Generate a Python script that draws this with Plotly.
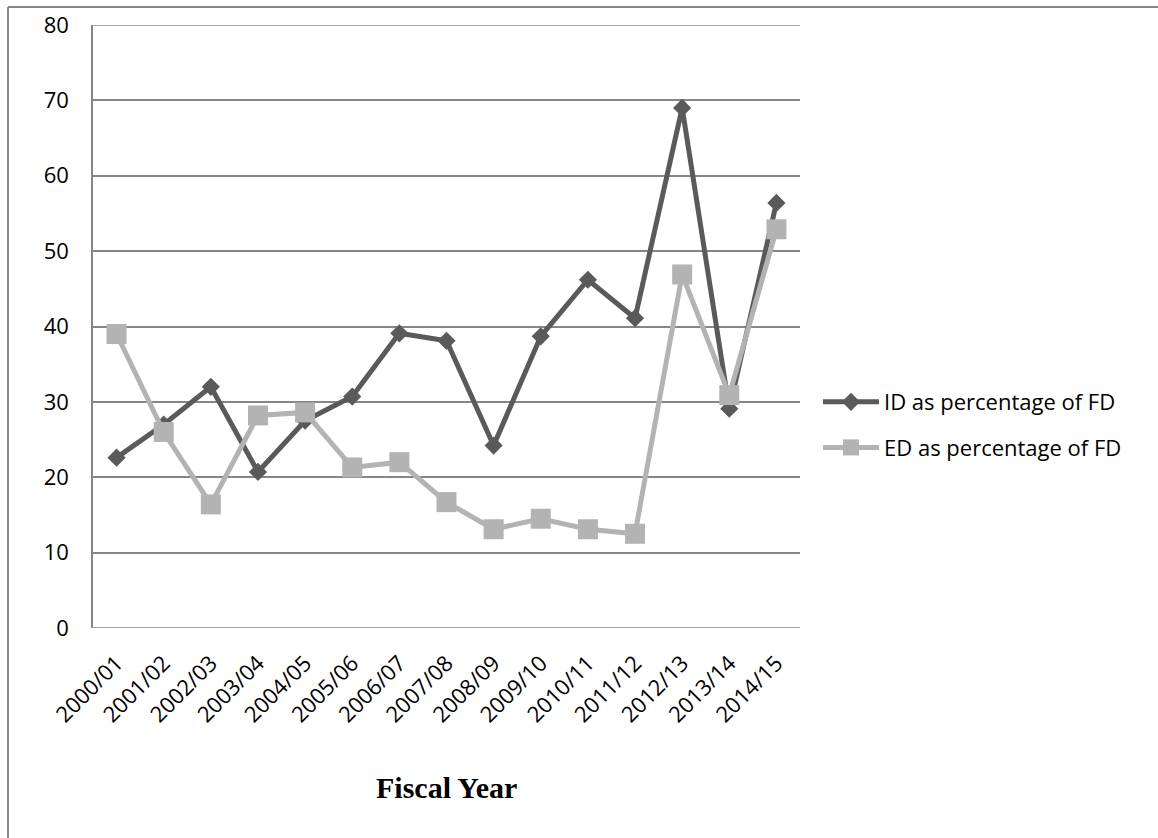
import plotly.graph_objects as go

# Fiscal years on the category axis
years = ["2000/01", "2001/02", "2002/03", "2003/04", "2004/05", "2005/06",
         "2006/07", "2007/08", "2008/09", "2009/10", "2010/11", "2011/12",
         "2012/13", "2013/14", "2014/15"]

# Internal debt (ID) as a percentage of fiscal deficit (FD)
id_pct = [22.6, 27.0, 32.0, 20.7, 27.5, 30.7, 39.1, 38.1, 24.2, 38.7,
          46.2, 41.1, 69.0, 29.1, 56.4]

# External debt (ED) as a percentage of fiscal deficit (FD)
ed_pct = [39.0, 26.0, 16.4, 28.2, 28.6, 21.3, 22.0, 16.7, 13.1, 14.5,
          13.1, 12.5, 46.9, 30.9, 52.9]

y_ticks = [0, 10, 20, 30, 40, 50, 60, 70, 80]

W, H = 1158, 838
L, R, T, B = 93, 800, 25, 628  # plot area in pixels

tick_font = dict(family="Open Sans", size=22, color="#000000")
grid = "#868686"

fig = go.Figure()
fig.add_trace(go.Scatter(
    x=years, y=id_pct, name="ID as percentage of FD", mode="lines+markers",
    legendgroup="id",
    line=dict(color="#5a5a5a", width=5),
    marker=dict(symbol="diamond", size=14, color="#5a5a5a"),
))
fig.add_trace(go.Scatter(
    x=years, y=ed_pct, name="ED as percentage of FD", mode="lines+markers",
    legendgroup="ed",
    line=dict(color="#b3b3b3", width=5),
    marker=dict(symbol="square", size=20, color="#b3b3b3"),
))


def px_x(x):
    return (x - L) / (R - L)


def px_y(y):
    return (B - y) / (B - T)


# Outer frame: top and left edges
frame = dict(color="#878787", width=2)
shapes = [
    dict(type="line", xref="paper", yref="paper", x0=px_x(8), x1=px_x(W + 5),
         y0=px_y(7), y1=px_y(7), line=frame),
    dict(type="line", xref="paper", yref="paper", x0=px_x(8), x1=px_x(8),
         y0=px_y(7), y1=px_y(H + 5), line=frame),
]
# Gridlines at the ends of the value range
for v in (y_ticks[0], y_ticks[-1]):
    shapes.append(dict(type="line", xref="paper", yref="y", x0=0, x1=1,
                       y0=v, y1=v, layer="below",
                       line=dict(color=grid, width=1.5)))

fig.update_layout(
    width=W, height=H,
    margin=dict(l=L, r=W - R, t=T, b=H - B, autoexpand=False),
    paper_bgcolor="white", plot_bgcolor="white",
    showlegend=True,
    legend=dict(x=px_x(818), y=px_y(425), xanchor="left", yanchor="middle",
                font=dict(family="Open Sans", size=22, color="#000000"),
                itemwidth=56, tracegroupgap=14, bgcolor="rgba(0,0,0,0)"),
    xaxis=dict(type="category", categoryorder="array", categoryarray=years,
               range=[-0.5, len(years) - 0.5], tickangle=-45,
               tickfont=tick_font, showgrid=False, zeroline=False,
               showline=False, ticks="", ticklabelstandoff=17),
    yaxis=dict(range=[0, 80], tickvals=y_ticks, tickfont=tick_font,
               showgrid=True, gridcolor=grid, gridwidth=1.5, zeroline=False,
               showline=True, linecolor=grid, linewidth=1.5, ticks="",
               ticklabelstandoff=18),
    shapes=shapes,
    annotations=[dict(text="<b>Fiscal Year</b>", xref="paper", yref="paper",
                      x=0.5, y=px_y(787), xanchor="center", yanchor="middle",
                      showarrow=False,
                      font=dict(family="Liberation Serif", size=30,
                                color="#000000"))],
)

fig.write_html("out.html")
